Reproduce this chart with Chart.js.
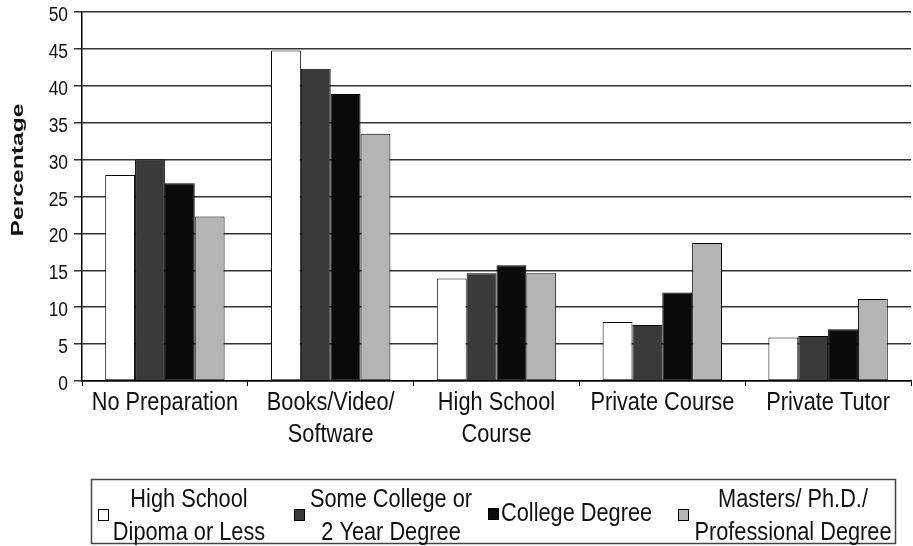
<!DOCTYPE html>
<html>
<head>
<meta charset="utf-8">
<script src="https://cdn.jsdelivr.net/npm/chart.js@4.4.1/dist/chart.umd.min.js"></script>
<style>
  html, body { margin: 0; padding: 0; background: #fff; }
  #wrap { width: 913px; height: 546px; position: relative; }
</style>
</head>
<body>
<div id="wrap"><canvas id="prepChart"></canvas></div>
<script>
// test preparation by education level
var categories = [
    'No Preparation',
    ['Books/Video/', 'Software'],
    ['High School', 'Course'],
    'Private Course',
    'Private Tutor'
];

var seriesNames = [
    ['High School', 'Dipoma or Less'],
    ['Some College or', '2 Year Degree'],
    ['College Degree'],
    ['Masters/ Ph.D./', 'Professional Degree']
];

var highSchool = [27.9, 44.8, 13.9, 8.0, 5.9];
var someCollege = [30.0, 42.3, 14.6, 7.6, 6.1];
var collegeDegree = [26.8, 38.9, 15.7, 12.0, 7.0];
var mastersPhd = [22.3, 33.5, 14.6, 18.7, 11.1];

var yTicks = [0, 5, 10, 15, 20, 25, 30, 35, 40, 45, 50];

var fills = ['#ffffff', '#3a3a3a', '#0a0a0a', '#b4b4b4'];
var sans = '"Liberation Sans", Arial, sans-serif';
var squeeze = 0.87; // the source type is condensed

// legend slots: swatch x, text anchor x, text alignment
var legendSlots = [
    { sx: 98, tx: 189, align: 'center' },
    { sx: 294, tx: 391, align: 'center' },
    { sx: 488, tx: 501, align: 'left' },
    { sx: 678, tx: 793, align: 'center' }
];

function narrowText(ctx, text, x, y, align) {
    ctx.save();
    ctx.translate(x, y);
    ctx.scale(squeeze, 1);
    ctx.textAlign = align;
    ctx.fillText(text, 0, 0);
    ctx.restore();
}

var labelsAndLegend = {
    id: 'labelsAndLegend',
    afterDraw: function (chart) {
        var ctx = chart.ctx;
        var xs = chart.scales.x, ys = chart.scales.y;
        ctx.save();
        ctx.fillStyle = '#111';
        ctx.textBaseline = 'alphabetic';

        // category labels
        ctx.font = '25px ' + sans;
        categories.forEach(function (cat, i) {
            var lines = [].concat(cat);
            var x = xs.getPixelForValue(i);
            lines.forEach(function (line, k) {
                narrowText(ctx, line, x, 410 + k * 32, 'center');
            });
        });

        // value labels
        ctx.font = '20px ' + sans;
        yTicks.forEach(function (v) {
            narrowText(ctx, String(v), 68, ys.getPixelForValue(v) + 9, 'right');
        });

        // legend box
        ctx.strokeStyle = '#444';
        ctx.lineWidth = 1.5;
        ctx.strokeRect(91.5, 479.5, 804, 64);
        ctx.font = '25px ' + sans;
        chart.data.datasets.forEach(function (ds, i) {
            var slot = legendSlots[i];
            var lines = seriesNames[i];
            var sy = lines.length === 1 ? 508 : 509;
            ctx.fillStyle = ds.backgroundColor;
            ctx.fillRect(slot.sx, sy, 10, 11);
            ctx.strokeStyle = '#000';
            ctx.lineWidth = 1;
            ctx.strokeRect(slot.sx + 0.5, sy + 0.5, 10, 11);
            ctx.fillStyle = '#111';
            if (lines.length === 1) {
                narrowText(ctx, lines[0], slot.tx, 521, slot.align);
            } else {
                narrowText(ctx, lines[0], slot.tx, 507, slot.align);
                narrowText(ctx, lines[1], slot.tx, 540, slot.align);
            }
        });

        // rotated, stretched axis title
        ctx.translate(23, 170);
        ctx.rotate(-Math.PI / 2);
        ctx.scale(1.45, 1);
        ctx.font = 'bold 17px ' + sans;
        ctx.textAlign = 'center';
        ctx.fillStyle = '#111';
        ctx.fillText('Percentage', 0, 0);
        ctx.restore();
    }
};

var datasets = [highSchool, someCollege, collegeDegree, mastersPhd].map(function (vals, i) {
    return {
        label: seriesNames[i].join(' '),
        data: vals,
        backgroundColor: fills[i],
        borderColor: '#000',
        borderWidth: 1,
        borderSkipped: false,
        barPercentage: 1,
        categoryPercentage: 0.72
    };
});

new Chart(document.getElementById('prepChart').getContext('2d'), {
    type: 'bar',
    data: { labels: categories, datasets: datasets },
    options: {
        responsive: true,
        maintainAspectRatio: false,
        animation: false,
        layout: { padding: { top: 12, right: 2, left: 0, bottom: 0 } },
        plugins: {
            legend: { display: false },
            tooltip: { enabled: false }
        },
        scales: {
            x: {
                grid: { offset: true, drawOnChartArea: false, tickLength: 5, color: '#000', lineWidth: 1 },
                border: { color: '#000', width: 1.5 },
                ticks: { display: false },
                afterFit: function (axis) { axis.height = 165; }
            },
            y: {
                min: 0,
                max: 50,
                afterBuildTicks: function (axis) {
                    axis.ticks = yTicks.map(function (v) { return { value: v }; });
                },
                grid: { color: '#333', lineWidth: 1.5, tickLength: 8 },
                border: { color: '#000', width: 1.5 },
                ticks: { display: false },
                afterFit: function (axis) { axis.width = 82; }
            }
        }
    },
    plugins: [labelsAndLegend]
});
</script>
</body>
</html>
